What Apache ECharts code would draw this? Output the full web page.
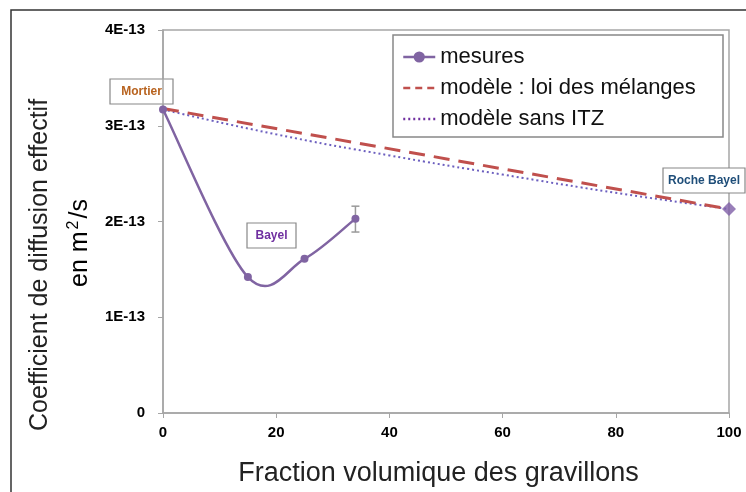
<!DOCTYPE html>
<html><head><meta charset="utf-8">
<script src="https://cdn.jsdelivr.net/npm/echarts@6/dist/echarts.min.js"></script>
<style>html,body{margin:0;padding:0;background:#fff}#c{width:746px;height:492px}</style>
</head><body><div id="c"></div>
<script>
// Data
var mesuresX = [0, 15, 25, 34];
var mesuresY = [3.17e-13, 1.42e-13, 1.61e-13, 2.03e-13];
var errorX = [34];
var errorLow = [1.89e-13];
var errorHigh = [2.16e-13];
var melangesX = [0, 100];
var melangesY = [3.18e-13, 2.13e-13];
var sansItzX = [0, 20, 40, 60, 80, 100];
var sansItzY = [3.17e-13, 2.91e-13, 2.69e-13, 2.49e-13, 2.30e-13, 2.13e-13];
var rocheX = [100];
var rocheY = [2.13e-13];
var xTicks = [0, 20, 40, 60, 80, 100];
var yTickLabels = ['0', '1E-13', '2E-13', '3E-13', '4E-13'];

function pairs(xs, ys) { return xs.map(function (x, i) { return [x, ys[i]]; }); }

var chart = echarts.init(document.getElementById('c'));
var FONT = 'Liberation Sans';
var PURPLE = '#8064a2';
chart.setOption({
  animation: false,
  textStyle: { fontFamily: FONT },
  grid: { left: 163, right: 17, top: 30, bottom: 79, show: true, borderColor: '#a6a6a6', borderWidth: 1.5 },
  xAxis: {
    type: 'value', min: 0, max: 100, interval: 20,
    axisLine: { show: true, lineStyle: { color: '#a6a6a6', width: 1.5 } },
    axisTick: { show: true, length: 5, lineStyle: { color: '#a6a6a6' } },
    splitLine: { show: false },
    axisLabel: { fontSize: 15, fontWeight: 'bold', color: '#000', margin: 12 },
    name: 'Fraction volumique des gravillons', nameLocation: 'middle', nameGap: 47,
    nameTextStyle: { fontSize: 27, color: '#222', padding: [0, 0, 0, -15] }
  },
  yAxis: {
    type: 'value', min: 0, max: 4e-13, interval: 1e-13,
    axisLine: { show: true, lineStyle: { color: '#a6a6a6', width: 1.5 } },
    axisTick: { show: true, length: 5, lineStyle: { color: '#a6a6a6' } },
    splitLine: { show: false },
    axisLabel: { fontSize: 15, fontWeight: 'bold', color: '#000', margin: 18,
      formatter: function (v) { return yTickLabels[Math.round(v / 1e-13)]; } }
  },
  legend: {
    orient: 'vertical', left: 397, top: 41, itemWidth: 32, itemHeight: 14, itemGap: 9,
    textStyle: { fontSize: 22, color: '#111', fontFamily: FONT },
    data: [
      { name: 'mesures', lineStyle: { opacity: 1, color: PURPLE, width: 2.5 } },
      { name: 'modèle : loi des mélanges', itemStyle: { opacity: 0 }, lineStyle: { color: '#c0504d', width: 2.5, type: [7, 5] } },
      { name: 'modèle sans ITZ', itemStyle: { opacity: 0 }, lineStyle: { color: '#7030a0', width: 2.5, type: [2, 3] } }
    ]
  },
  series: [
    { name: 'modèle : loi des mélanges', type: 'line', data: pairs(melangesX, melangesY), symbol: 'none',
      lineStyle: { color: '#c0504d', width: 3, type: [16, 9] }, itemStyle: { color: '#c0504d' }, z: 3 },
    { name: 'modèle sans ITZ', type: 'line', data: pairs(sansItzX, sansItzY), symbol: 'none', smooth: true,
      lineStyle: { color: '#6c5fbf', width: 2, type: [2, 3] }, itemStyle: { color: '#7030a0' }, z: 2 },
    { name: 'mesures', type: 'line', data: pairs(mesuresX, mesuresY),
      symbol: 'circle', symbolSize: 8,
      lineStyle: { color: PURPLE, width: 2.5, opacity: 0 }, itemStyle: { color: PURPLE }, z: 6 },
    { name: 'mesures-courbe', type: 'custom', z: 5,
      data: pairs(mesuresX, mesuresY),
      renderItem: function (params, api) {
        if (params.dataIndex !== 0) return null;
        var P = mesuresX.map(function (x, i) { return api.coord([x, mesuresY[i]]); });
        var n = P.length;
        var path = 'M' + P[0][0] + ' ' + P[0][1];
        for (var i = 0; i < n - 1; i++) {
          var p0 = P[Math.max(i - 1, 0)], p1 = P[i], p2 = P[i + 1], p3 = P[Math.min(i + 2, n - 1)];
          var c1 = [p1[0] + (p2[0] - p0[0]) / 6, p1[1] + (p2[1] - p0[1]) / 6];
          var c2 = [p2[0] - (p3[0] - p1[0]) / 6, p2[1] - (p3[1] - p1[1]) / 6];
          path += ' C' + c1[0] + ' ' + c1[1] + ' ' + c2[0] + ' ' + c2[1] + ' ' + p2[0] + ' ' + p2[1];
        }
        return { type: 'path', shape: { pathData: path }, style: { fill: 'none', stroke: PURPLE, lineWidth: 2.5 } };
      }
    },
    { name: 'Roche Bayel', type: 'scatter', data: pairs(rocheX, rocheY), symbol: 'diamond', symbolSize: 14,
      itemStyle: { color: '#7f5fa8' }, z: 6 },
    { name: 'erreur', type: 'custom', z: 4,
      data: errorX.map(function (x, i) { return [x, errorLow[i], errorHigh[i]]; }),
      renderItem: function (params, api) {
        var lo = api.coord([api.value(0), api.value(1)]);
        var hi = api.coord([api.value(0), api.value(2)]);
        var w = 4, st = { stroke: '#999', lineWidth: 1.5 };
        return { type: 'group', children: [
          { type: 'line', shape: { x1: lo[0], y1: lo[1], x2: hi[0], y2: hi[1] }, style: st },
          { type: 'line', shape: { x1: lo[0] - w, y1: lo[1], x2: lo[0] + w, y2: lo[1] }, style: st },
          { type: 'line', shape: { x1: hi[0] - w, y1: hi[1], x2: hi[0] + w, y2: hi[1] }, style: st }
        ] };
      }
    }
  ],
  graphic: [
    { type: 'rect', shape: { x: 11, y: 10, width: 800, height: 600 }, style: { fill: 'none', stroke: '#333', lineWidth: 1.5 }, z: 0, silent: true },
    { type: 'rect', shape: { x: 393, y: 35, width: 330, height: 102 }, style: { fill: '#fff', stroke: '#888', lineWidth: 1.5 }, z: 1 },
    { type: 'text', x: 40, y: 265, rotation: Math.PI / 2,
      style: { text: 'Coefficient de diffusion effectif', font: '25px ' + FONT, fill: '#222', align: 'center', verticalAlign: 'middle' } },
    { type: 'text', x: 80, y: 243, rotation: Math.PI / 2,
      style: { text: '{a|en m}{s|2}{a|/s}', align: 'center', verticalAlign: 'middle',
        rich: { a: { fontSize: 25, fontFamily: FONT, color: '#222' },
                s: { fontSize: 16, fontFamily: FONT, color: '#222', verticalAlign: 'top', padding: [0, 2, 12, 2] } } } },
    { type: 'group', children: [
      { type: 'rect', shape: { x: 110, y: 79, width: 63, height: 25 }, style: { fill: '#fff', stroke: '#888', lineWidth: 1.2 } },
      { type: 'text', x: 141.5, y: 91.5, style: { text: 'Mortier', font: 'bold 12px ' + FONT, fill: '#b8631f', align: 'center', verticalAlign: 'middle' } }
    ], z: 10 },
    { type: 'group', children: [
      { type: 'rect', shape: { x: 247, y: 223, width: 49, height: 25 }, style: { fill: '#fff', stroke: '#888', lineWidth: 1.2 } },
      { type: 'text', x: 271.5, y: 235.5, style: { text: 'Bayel', font: 'bold 12px ' + FONT, fill: '#7030a0', align: 'center', verticalAlign: 'middle' } }
    ], z: 10 },
    { type: 'group', children: [
      { type: 'rect', shape: { x: 663, y: 168, width: 82, height: 25 }, style: { fill: '#fff', stroke: '#888', lineWidth: 1.2 } },
      { type: 'text', x: 704, y: 180.5, style: { text: 'Roche Bayel', font: 'bold 12px ' + FONT, fill: '#1f4e79', align: 'center', verticalAlign: 'middle' } }
    ], z: 10 }
  ]
});
</script></body></html>
